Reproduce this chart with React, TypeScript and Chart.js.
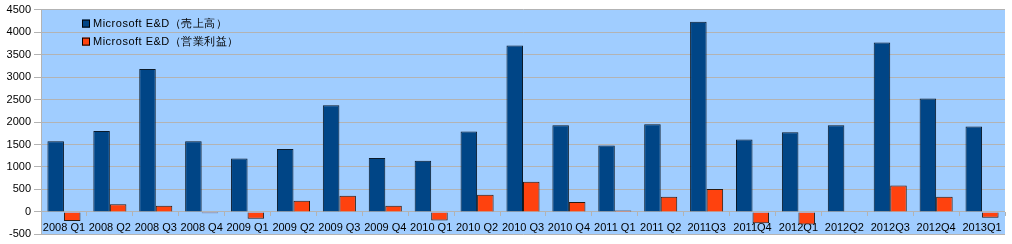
import React, { useEffect, useRef } from "react";
import { Chart, registerables } from "chart.js";

Chart.register(...registerables);

const categories = [
  "2008 Q1", "2008 Q2", "2008 Q3", "2008 Q4",
  "2009 Q1", "2009 Q2", "2009 Q3", "2009 Q4",
  "2010 Q1", "2010 Q2", "2010 Q3", "2010 Q4",
  "2011 Q1", "2011 Q2", "2011Q3", "2011Q4",
  "2012Q1", "2012Q2", "2012Q3", "2012Q4", "2013Q1",
];
const revenue = [
  1570, 1800, 3180, 1570,
  1190, 1400, 2375, 1200,
  1140, 1790, 3700, 1925,
  1475, 1950, 4230, 1610,
  1770, 1930, 3770, 2520, 1900,
];
const operatingIncome = [
  -200, 170, 140, -30,
  -150, 250, 360, 140,
  -190, 380, 670, 220,
  30, 340, 510, -250,
  -280, 10, 590, 340, -130,
];
const revenueLabel = "Microsoft E&D（売上高）";
const incomeLabel = "Microsoft E&D（営業利益）";
const yMin = -500;
const yMax = 4500;
const yStep = 500;

const FONT = '"Liberation Sans", Arial, sans-serif';

const plotBackground = {
  id: "plotBackground",
  beforeDraw(chart: any) {
    const { ctx, chartArea } = chart;
    ctx.save();
    ctx.fillStyle = "#a0cdff";
    ctx.fillRect(chartArea.left, chartArea.top, chartArea.right - chartArea.left, chartArea.bottom - chartArea.top);
    ctx.restore();
  },
};

const insideLegend = {
  id: "insideLegend",
  afterDatasetsDraw(chart: any) {
    const { ctx, chartArea } = chart;
    ctx.save();
    ctx.font = `11px ${FONT}`;
    try { (ctx as any).letterSpacing = "0.5px"; } catch (e) {}
    ctx.textBaseline = "middle";
    ctx.textAlign = "left";
    chart.data.datasets.forEach((ds: any, i: number) => {
      const x = chartArea.left + 41;
      const y = chartArea.top + 14 + i * 18;
      ctx.fillStyle = ds.backgroundColor;
      ctx.fillRect(x, y - 4, 8, 8);
      ctx.strokeStyle = "#000";
      ctx.lineWidth = 1;
      ctx.strokeRect(x + 0.5, y - 3.5, 7, 7);
      ctx.fillStyle = "#000";
      ctx.fillText(ds.label, x + 11, y);
    });
    ctx.restore();
  },
};

export default function App() {
  const canvasRef = useRef<HTMLCanvasElement | null>(null);

  useEffect(() => {
    const canvas = canvasRef.current;
    if (!canvas) return;
    const chart = new Chart(canvas, {
      type: "bar",
      data: {
        labels: categories,
        datasets: [
          {
            label: revenueLabel,
            data: revenue,
            backgroundColor: "#004586",
            borderColor: "#0a1a2a",
            borderWidth: 1,
            categoryPercentage: 0.72,
            barPercentage: 1.0,
          },
          {
            label: incomeLabel,
            data: operatingIncome,
            backgroundColor: "#ff420e",
            borderColor: "#2a1a10",
            borderWidth: 1,
            categoryPercentage: 0.72,
            barPercentage: 1.0,
          },
        ],
      },
      options: {
        animation: false,
        responsive: false,
        maintainAspectRatio: false,
        layout: { padding: { top: 2, bottom: 4, right: 7, left: 0 } },
        plugins: {
          legend: { display: false },
          tooltip: { enabled: false },
        },
        scales: {
          x: {
            position: { y: 0 } as any,
            grid: {
              drawOnChartArea: false,
              drawTicks: true,
              tickLength: 4,
              color: "#b3b3b3",
            },
            border: { display: false },
            ticks: {
              color: "#000",
              font: { family: FONT, size: 11 },
              padding: 5,
              maxRotation: 0,
              autoSkip: false,
            },
          },
          y: {
            min: yMin,
            max: yMax,
            afterFit(scale: any) {
              scale.width = 41;
            },
            grid: {
              color: "#b3b3b3",
              tickLength: 7,
            },
            border: { color: "#b3b3b3" },
            ticks: {
              stepSize: yStep,
              color: "#000",
              font: { family: FONT, size: 11 },
              padding: 3,
              callback: (value: any) => String(value),
            },
          },
        },
      },
      plugins: [plotBackground, insideLegend],
    });
    return () => chart.destroy();
  }, []);

  return (
    <div style={{ position: "fixed", left: 0, top: 0, width: 1012, height: 244, background: "#fff" }}>
      <canvas ref={canvasRef} width={1012} height={244} style={{ width: 1012, height: 244 }} />
    </div>
  );
}
